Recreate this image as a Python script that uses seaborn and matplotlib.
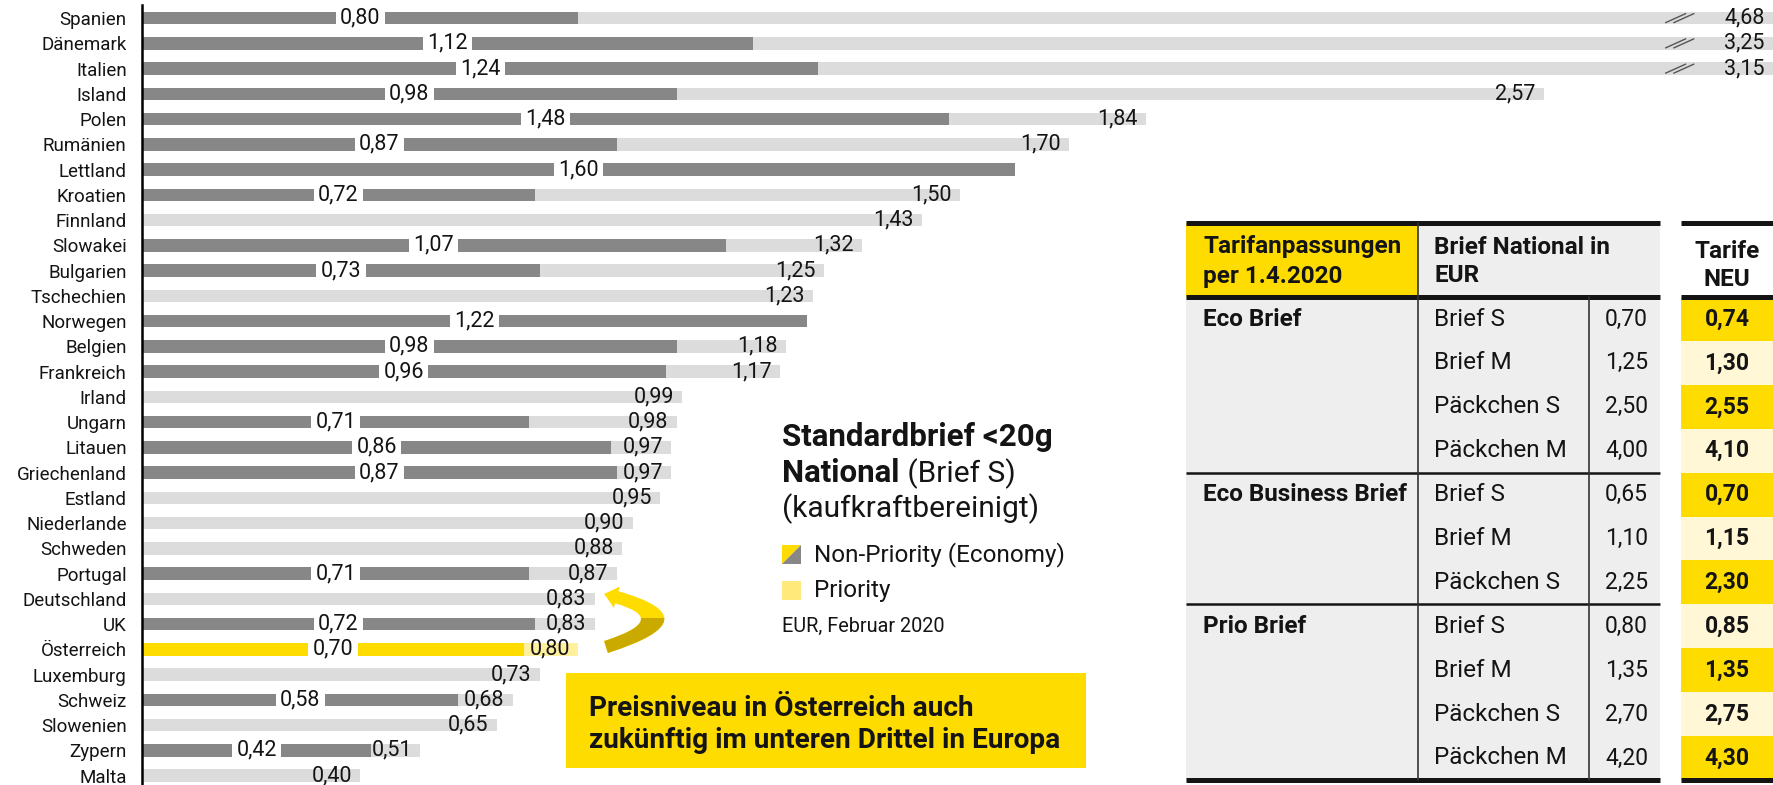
import numpy as np
import pandas as pd
import matplotlib
matplotlib.use("Agg")
import matplotlib.pyplot as plt
from matplotlib.patches import Rectangle, Polygon, FancyArrowPatch
import seaborn as sns

# --- data -------------------------------------------------------------
countries = ['Spanien', 'Dänemark', 'Italien', 'Island', 'Polen', 'Rumänien', 'Lettland',
             'Kroatien', 'Finnland', 'Slowakei', 'Bulgarien', 'Tschechien', 'Norwegen',
             'Belgien', 'Frankreich', 'Irland', 'Ungarn', 'Litauen', 'Griechenland',
             'Estland', 'Niederlande', 'Schweden', 'Portugal', 'Deutschland', 'UK',
             'Österreich', 'Luxemburg', 'Schweiz', 'Slowenien', 'Zypern', 'Malta']
non_priority = [0.80, 1.12, 1.24, 0.98, 1.48, 0.87, 1.60, 0.72, np.nan, 1.07, 0.73, np.nan,
                1.22, 0.98, 0.96, np.nan, 0.71, 0.86, 0.87, np.nan, np.nan, np.nan, 0.71,
                np.nan, 0.72, 0.70, np.nan, 0.58, np.nan, 0.42, np.nan]
priority = [4.68, 3.25, 3.15, 2.57, 1.84, 1.70, np.nan, 1.50, 1.43, 1.32, 1.25, 1.23, np.nan,
            1.18, 1.17, 0.99, 0.98, 0.97, 0.97, 0.95, 0.90, 0.88, 0.87, 0.83, 0.83, 0.80,
            0.73, 0.68, 0.65, 0.51, 0.40]
highlight = 'Österreich'

tarif_groups = ['Eco Brief', 'Eco Business Brief', 'Prio Brief']
tarif_products = [['Brief S', 'Brief M', 'Päckchen S', 'Päckchen M'],
                  ['Brief S', 'Brief M', 'Päckchen S'],
                  ['Brief S', 'Brief M', 'Päckchen S', 'Päckchen M']]
tarif_alt = [[0.70, 1.25, 2.50, 4.00], [0.65, 1.10, 2.25], [0.80, 1.35, 2.70, 4.20]]
tarif_neu = [[0.74, 1.30, 2.55, 4.10], [0.70, 1.15, 2.30], [0.85, 1.35, 2.75, 4.30]]

# colours
DARK, LIGHT = '#878787', '#DCDCDC'
YELLOW, PALE = '#FFDC00', '#FFF0A0'
CELL_PALE, TABLE_BG = '#FFF7D6', '#EEEEEE'
INK = '#141414'

W, H = 1773, 785
X_MAX = 2.99          # right edge of the bar axis, longer bars are cut here


def fmt(v):
    return f"{v:.2f}".replace('.', ',')


sns.set_style('white')
plt.rcParams['font.family'] = ['Roboto', 'DejaVu Sans']

fig = plt.figure(figsize=(W / 100, H / 100), dpi=100)
ax = fig.add_axes([142 / W, 0, 1 - 142 / W, (H - 5) / H])

df = pd.DataFrame({'land': countries, 'eco': non_priority, 'prio': priority})
df['prio_plot'] = df['prio'].clip(upper=X_MAX)
light_pal = {c: (PALE if c == highlight else LIGHT) for c in countries}
dark_pal = {c: (YELLOW if c == highlight else DARK) for c in countries}

sns.barplot(data=df.dropna(subset=['prio']), x='prio_plot', y='land', order=countries,
            hue='land', palette=light_pal, width=0.5, saturation=1, errorbar=None,
            legend=False, orient='h', linewidth=0, ax=ax)
sns.barplot(data=df.dropna(subset=['eco']), x='eco', y='land', order=countries,
            hue='land', palette=dark_pal, width=0.5, saturation=1, errorbar=None,
            legend=False, orient='h', linewidth=0, ax=ax)

ax.set_xlim(0, X_MAX)
ax.set_ylim(len(countries) - 0.63, -0.52)
ax.set_xlabel('')
ax.set_ylabel('')
ax.set_xticks([])
ax.tick_params(axis='y', length=0, pad=11, labelsize=13.5, labelcolor=INK)
for s in ['top', 'right', 'bottom']:
    ax.spines[s].set_visible(False)
ax.spines['left'].set_color('black')
ax.spines['left'].set_linewidth(1.8)

# value labels
for i, (c, e, p) in enumerate(zip(countries, non_priority, priority)):
    if not np.isnan(e):
        ax.text(e / 2, i, fmt(e), ha='center', va='center', fontsize=15.5, color=INK,
                bbox=dict(boxstyle='square,pad=0.2', fc='white', ec='none'), zorder=5)
    if not np.isnan(p):
        ax.annotate(fmt(p), xy=(min(p, X_MAX), i), xytext=(-6, 0), textcoords='offset points',
                    ha='right', va='center', fontsize=15.5, color=INK, zorder=5)
        if p > X_MAX:
            for bx in (2.793, 2.808):
                ax.plot([bx, bx + 0.037], [i + 0.18, i - 0.18], color='#555555', lw=1, zorder=4)

# --- overlay in pixel coordinates for notes and table ----------------
ov = fig.add_axes([0, 0, 1, 1])
ov.set_xlim(0, W)
ov.set_ylim(H, 0)
ov.axis('off')
ov.patch.set_alpha(0)

# title / legend block
ov.text(782, 446, 'Standardbrief <20g', fontsize=22.5, fontweight='bold', color=INK, va='baseline')
t_nat = ov.text(782, 482, 'National', fontsize=22.5, fontweight='bold', color=INK, va='baseline')
fig.canvas.draw()
w_nat = t_nat.get_window_extent().width
ov.text(782 + w_nat, 482, ' (Brief S)', fontsize=21.5, color=INK, va='baseline')
ov.text(782, 517, '(kaufkraftbereinigt)', fontsize=21.5, color=INK, va='baseline')

ov.add_patch(Polygon([(782, 545), (801, 545), (782, 564)], closed=True, fc=YELLOW, ec='none'))
ov.add_patch(Polygon([(801, 545), (801, 564), (782, 564)], closed=True, fc=DARK, ec='none'))
ov.text(814, 555, 'Non-Priority (Economy)', fontsize=17.5, color=INK, va='center')
ov.add_patch(Rectangle((782, 581), 19, 19, fc='#FFE97A', ec='none'))
ov.text(814, 591, 'Priority', fontsize=17.5, color=INK, va='center')
ov.text(782, 626, 'EUR, Februar 2020', fontsize=14.3, color=INK, va='center')

# callout
ov.add_patch(Rectangle((566, 673), 520, 95, fc=YELLOW, ec='none'))
ov.text(589, 708, 'Preisniveau in Österreich auch', fontsize=20.2, fontweight='bold',
        color=INK, va='center')
ov.text(589, 741, 'zukünftig im unteren Drittel in Europa', fontsize=20.2, fontweight='bold',
        color=INK, va='center')

# curved arrow pointing from Österreich up to Deutschland
arrow_kw = dict(posA=(606, 647), posB=(604, 594), connectionstyle='arc3,rad=1.8',
                arrowstyle='simple,head_width=1.6,head_length=0.95,tail_width=0.9',
                mutation_scale=10, lw=0, shrinkA=0, shrinkB=0)
ov.add_patch(FancyArrowPatch(color='#FFDC00', **arrow_kw))
dark_arrow = FancyArrowPatch(color='#CBAA00', **arrow_kw)
ov.add_patch(dark_arrow)
clip = Rectangle((590, 618), 80, 45, transform=ov.transData)
dark_arrow.set_clip_path(clip)

# --- tariff table ----------------------------------------------------
L0, L1, L2, L3 = 1186, 1418, 1589, 1660
R0, R1 = 1681, 1773
T_TOP, T_HEAD, ROW_H = 223, 297, 43.9
n_rows = sum(len(p) for p in tarif_products)
T_BOT = T_HEAD + n_rows * ROW_H
TXT, NUM = 17.5, 16.5

ov.add_patch(Rectangle((L0, T_TOP), L3 - L0, T_BOT - T_TOP, fc=TABLE_BG, ec='none'))
ov.add_patch(Rectangle((L0, T_TOP), L1 - L0, T_HEAD - T_TOP, fc=YELLOW, ec='none'))

ov.text(1203, 247, 'Tarifanpassungen', fontsize=TXT, fontweight='bold', color=INK, va='center')
ov.text(1203, 276, 'per 1.4.2020', fontsize=TXT, fontweight='bold', color=INK, va='center')
ov.text(1434, 247, 'Brief National in', fontsize=TXT, fontweight='bold', color=INK, va='center')
ov.text(1434, 276, 'EUR', fontsize=TXT, fontweight='bold', color=INK, va='center')
ov.text((R0 + R1) / 2, 251, 'Tarife', fontsize=TXT, fontweight='bold', color=INK,
        va='center', ha='center')
ov.text((R0 + R1) / 2, 279, 'NEU', fontsize=TXT, fontweight='bold', color=INK,
        va='center', ha='center')

y = T_HEAD
k = 0
for g, (grp, prods, alt, neu) in enumerate(zip(tarif_groups, tarif_products, tarif_alt, tarif_neu)):
    ov.text(1203, y + 22, grp, fontsize=TXT, fontweight='bold', color=INK, va='center')
    for j, (p, a, n) in enumerate(zip(prods, alt, neu)):
        top = y + j * ROW_H
        cy = top + 22
        ov.text(1434, cy, p, fontsize=TXT, color=INK, va='center')
        ov.text(1648, cy, fmt(a), fontsize=NUM, color=INK, va='center', ha='right')
        ov.add_patch(Rectangle((R0, top), R1 - R0, ROW_H,
                               fc=YELLOW if k % 2 == 0 else CELL_PALE, ec='none'))
        ov.text((R0 + R1) / 2, cy, fmt(n), fontsize=NUM, fontweight='bold', color=INK,
                va='center', ha='center')
        k += 1
    y += len(prods) * ROW_H
    if g < len(tarif_groups) - 1:
        ov.plot([L0, L3], [y, y], color=INK, lw=1.8, solid_capstyle='butt')

# table rules
for x0, x1 in ((L0, L3), (R0, R1)):
    for yy in (T_TOP, T_HEAD, T_BOT):
        ov.plot([x0, x1], [yy, yy], color=INK, lw=3.6, solid_capstyle='butt')
ov.plot([L1, L1], [T_TOP, T_BOT], color='#333333', lw=1.2)
ov.plot([L2, L2], [T_HEAD, T_BOT], color='#333333', lw=1.2)

fig.savefig('out.png', dpi=100)
